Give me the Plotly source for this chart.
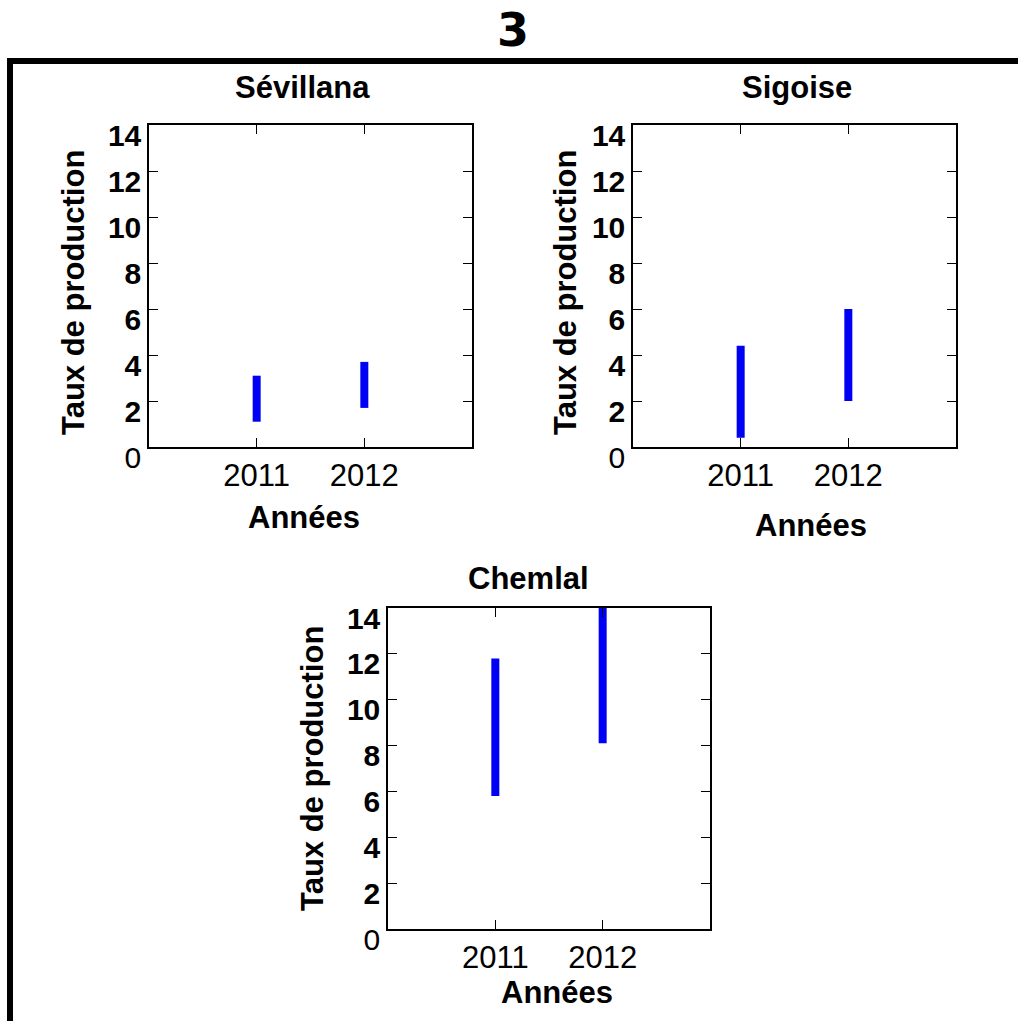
import plotly.graph_objects as go

W, H = 1018, 1021

years = [2011, 2012]
year_ticks = ["2011", "2012"]
y_ticks = [0, 2, 4, 6, 8, 10, 12, 14]

panels = ["Sévillana", "Sigoise", "Chemlal"]
sevillana_low = [1.1, 1.7]
sevillana_high = [3.1, 3.7]
sigoise_low = [0.4, 2.0]
sigoise_high = [4.4, 6.0]
chemlal_low = [5.8, 8.1]
chemlal_high = [11.8, 14.0]

main_title = "3"
x_title = "Années"
y_title = "Taux de production"

lows = [sevillana_low, sigoise_low, chemlal_low]
highs = [sevillana_high, sigoise_high, chemlal_high]

# pixel boxes of the plot areas (left, right, top, bottom)
boxes = [(149, 472, 125, 447), (633, 956, 125, 447), (388, 710, 608, 929)]
# positions for annotation texts (pixels)
xtitle_pos = [(304, 517), (811, 525), (557, 992)]
ytitle_pos = [(73, 293), (565, 293), (312, 769)]
ptitle_pos = [(302, 87), (797, 87), (528, 578)]

FONT = "Liberation Sans, Arial, sans-serif"

fig = go.Figure()
layout = dict(
    width=W, height=H,
    margin=dict(l=0, r=0, t=0, b=0, autoexpand=False),
    paper_bgcolor="white", plot_bgcolor="white",
    showlegend=False,
    font=dict(family=FONT, color="black"),
)

y_ticktext = [str(v) if v == 0 else "<b>%d</b>" % v for v in y_ticks]

annotations = []
for i, name in enumerate(panels):
    xs, ys = [], []
    for yr, lo, hi in zip(years, lows[i], highs[i]):
        xs += [yr, yr, None]
        ys += [lo, hi, None]
    sfx = "" if i == 0 else str(i + 1)
    fig.add_trace(go.Scatter(
        x=xs, y=ys, mode="lines",
        line=dict(color="#0000F5", width=8),
        xaxis="x" + sfx, yaxis="y" + sfx, hoverinfo="skip",
    ))
    l, r, t, b = boxes[i]
    layout["xaxis" + sfx] = dict(
        domain=[l / W, r / W], range=[2010, 2013], anchor="y" + sfx,
        tickvals=years, ticktext=year_ticks,
        showline=True, linecolor="black", linewidth=1.5, mirror="ticks",
        ticks="inside", ticklen=9, tickcolor="black", tickwidth=1,
        showgrid=False, zeroline=False,
        tickfont=dict(family=FONT, size=31, color="black"),
    )
    layout["yaxis" + sfx] = dict(
        domain=[1 - b / H, 1 - t / H], range=[0, 14], anchor="x" + sfx,
        tickvals=y_ticks, ticktext=y_ticktext,
        showline=True, linecolor="black", linewidth=1.5, mirror="ticks",
        ticks="inside", ticklen=9, tickcolor="black", tickwidth=1,
        showgrid=False, zeroline=False,
        tickfont=dict(family=FONT, size=30, color="black"),
        ticklabelshift=10,
    )
    px, py = ptitle_pos[i]
    annotations.append(dict(text="<b>%s</b>" % name, x=px / W, y=1 - py / H,
                            xref="paper", yref="paper", showarrow=False,
                            xanchor="center", yanchor="middle",
                            font=dict(family=FONT, size=31, color="black")))
    px, py = xtitle_pos[i]
    annotations.append(dict(text="<b>%s</b>" % x_title, x=px / W, y=1 - py / H,
                            xref="paper", yref="paper", showarrow=False,
                            xanchor="center", yanchor="middle",
                            font=dict(family=FONT, size=31, color="black")))
    px, py = ytitle_pos[i]
    annotations.append(dict(text="<b>%s</b>" % y_title, x=px / W, y=1 - py / H,
                            xref="paper", yref="paper", showarrow=False,
                            xanchor="center", yanchor="middle", textangle=-90,
                            font=dict(family=FONT, size=31, color="black")))

annotations.append(dict(text="<b>%s</b>" % main_title, x=513 / W, y=1 - 30 / H,
                        xref="paper", yref="paper", showarrow=False,
                        xanchor="center", yanchor="middle",
                        font=dict(family="DejaVu Sans, Verdana, sans-serif", size=46, color="black")))
layout["annotations"] = annotations
layout["shapes"] = [
    dict(type="line", xref="paper", yref="paper", x0=7 / W, x1=1, y0=1 - 61 / H, y1=1 - 61 / H,
         line=dict(color="black", width=6)),
    dict(type="line", xref="paper", yref="paper", x0=10 / W, x1=10 / W, y0=1 - 58 / H, y1=0,
         line=dict(color="black", width=6)),
]
fig.update_layout(**layout)
fig.write_html("out.html")
